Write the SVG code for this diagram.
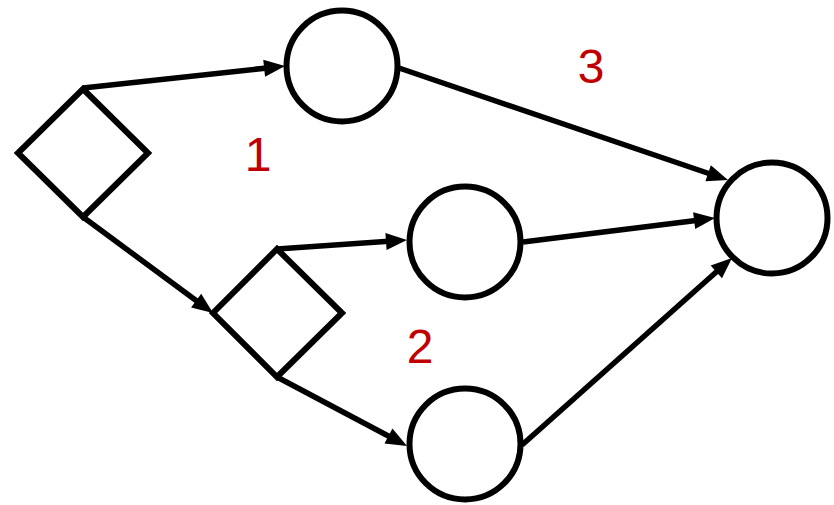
<svg xmlns="http://www.w3.org/2000/svg" width="834" height="505" viewBox="0 0 834 505">
<style>
.node{fill:#fff;stroke:#000;stroke-width:6;stroke-linejoin:miter}
.edge{stroke:#000;stroke-width:5.5;fill:none;marker-end:url(#arr)}
.lbl{font-family:"Liberation Sans",Arial,sans-serif;font-size:48px;fill:#C00000;text-anchor:middle}
</style>
<defs>
<marker id="arr" markerUnits="userSpaceOnUse" markerWidth="22" markerHeight="18" refX="10" refY="8.5" orient="auto" overflow="visible">
<path d="M0,0 L21,8.5 L0,17 z" fill="#000"/>
</marker>
</defs>
<rect width="834" height="505" fill="#fff"/>
<g id="connectors">
<line class="edge" x1="83" y1="88" x2="274.1" y2="67.2"/>
<line class="edge" x1="83" y1="217" x2="204.2" y2="306.5"/>
<line class="edge" x1="277" y1="249" x2="396" y2="240.8"/>
<line class="edge" x1="277" y1="377" x2="397.3" y2="440.8"/>
<line class="edge" x1="399" y1="68" x2="717.6" y2="176.5"/>
<line class="edge" x1="523" y1="242" x2="704.1" y2="219.4"/>
<line class="edge" x1="522" y1="445" x2="723.8" y2="265.3"/>
</g>
<g id="decision1"><polygon class="node" points="83,89 148,153 83,217 18,153"/></g>
<g id="decision2"><polygon class="node" points="277,249 342,313 277,377 213,313"/></g>
<g id="circleTop"><circle class="node" cx="342" cy="66" r="55.5"/></g>
<g id="circleMid"><circle class="node" cx="465" cy="242" r="55.5"/></g>
<g id="circleBottom"><circle class="node" cx="465" cy="444" r="55.5"/></g>
<g id="circleRight"><circle class="node" cx="772" cy="218" r="55.5"/></g>
<g id="labels">
<text class="lbl" x="258" y="171">1</text>
<text class="lbl" x="420" y="363">2</text>
<text class="lbl" x="591" y="83">3</text>
</g>
</svg>
